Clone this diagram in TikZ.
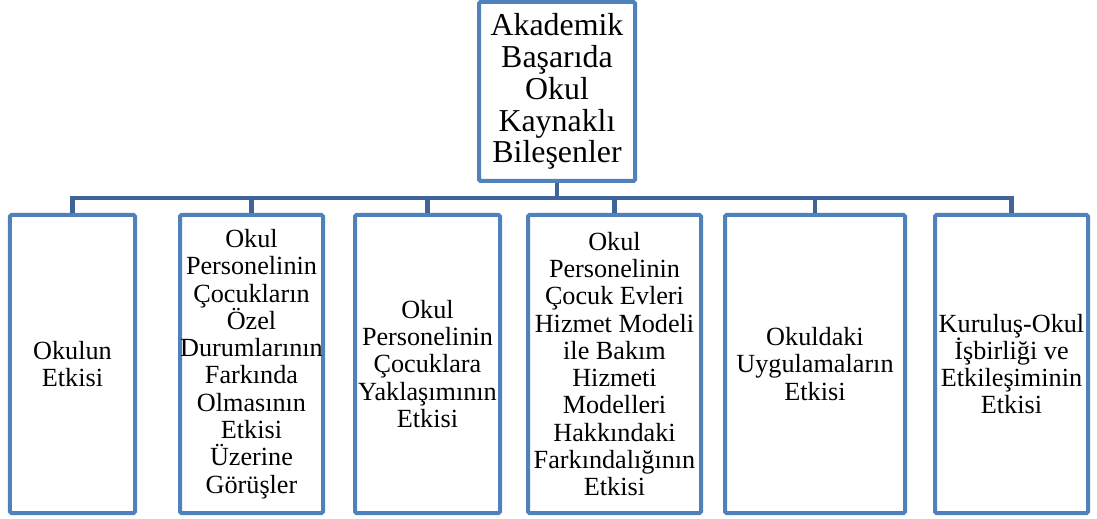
\documentclass[tikz,border=0pt]{standalone}
\usepackage{fontspec}
\setmainfont{Liberation Serif}
\usetikzlibrary{calc}
\definecolor{boxblue}{RGB}{79,129,189}
\definecolor{linkblue}{RGB}{62,100,152}
\tikzset{
  topbox/.style={draw=boxblue,line width=4bp,rounded corners=1.5bp,fill=white,align=center,inner sep=0pt,
    minimum width=156bp,minimum height=179bp,font=\fontsize{32}{32}\selectfont},
  subbox/.style={draw=boxblue,line width=4bp,rounded corners=1.5bp,fill=white,align=center,inner sep=0pt,
    minimum height=298bp,font=\fontsize{26.3}{27.4}\selectfont},
  link/.style={draw=linkblue,line width=4.5bp}
}

\begin{document}
\begin{tikzpicture}[x=1bp,y=-1bp]
					\useasboundingbox (0,0) rectangle (1097,519);
					%BUS
					\coordinate (bus) at (557,198);
					%BOXES
					\node[topbox] (top) at (557,91.5) {Akademik\\Başarıda\\Okul\\Kaynaklı\\Bileşenler};
					\node[subbox,minimum width=125bp] (c1) at (72.5,364) {Okulun\\Etkisi};
					\node[subbox,minimum width=143bp] (c2) at (251.5,364) {Okul\\Personelinin\\Çocukların\\Özel\\Durumlarının\\Farkında\\Olmasının\\Etkisi\\Üzerine\\Görüşler};
					\node[subbox,minimum width=145bp] (c3) at (427.5,364) {Okul\\Personelinin\\Çocuklara\\Yaklaşımının\\Etkisi};
					\node[subbox,minimum width=173bp] (c4) at (614.5,364) {Okul\\Personelinin\\Çocuk Evleri\\Hizmet Modeli\\ile Bakım\\Hizmeti\\Modelleri\\Hakkındaki\\Farkındalığının\\Etkisi};
					\node[subbox,minimum width=180bp] (c5) at (815,364) {Okuldaki\\Uygulamaların\\Etkisi};
					\node[subbox,minimum width=153bp] (c6) at (1011.5,364) {Kuruluş-Okul\\İşbirliği ve\\Etkileşiminin\\Etkisi};
					%LINKS
					\foreach \c in {c1,c2,c3,c4,c5,c6}
						\draw[link] (top.south) -- (top.south |- bus) -| (\c.north);
	  \end{tikzpicture}
\end{document}
